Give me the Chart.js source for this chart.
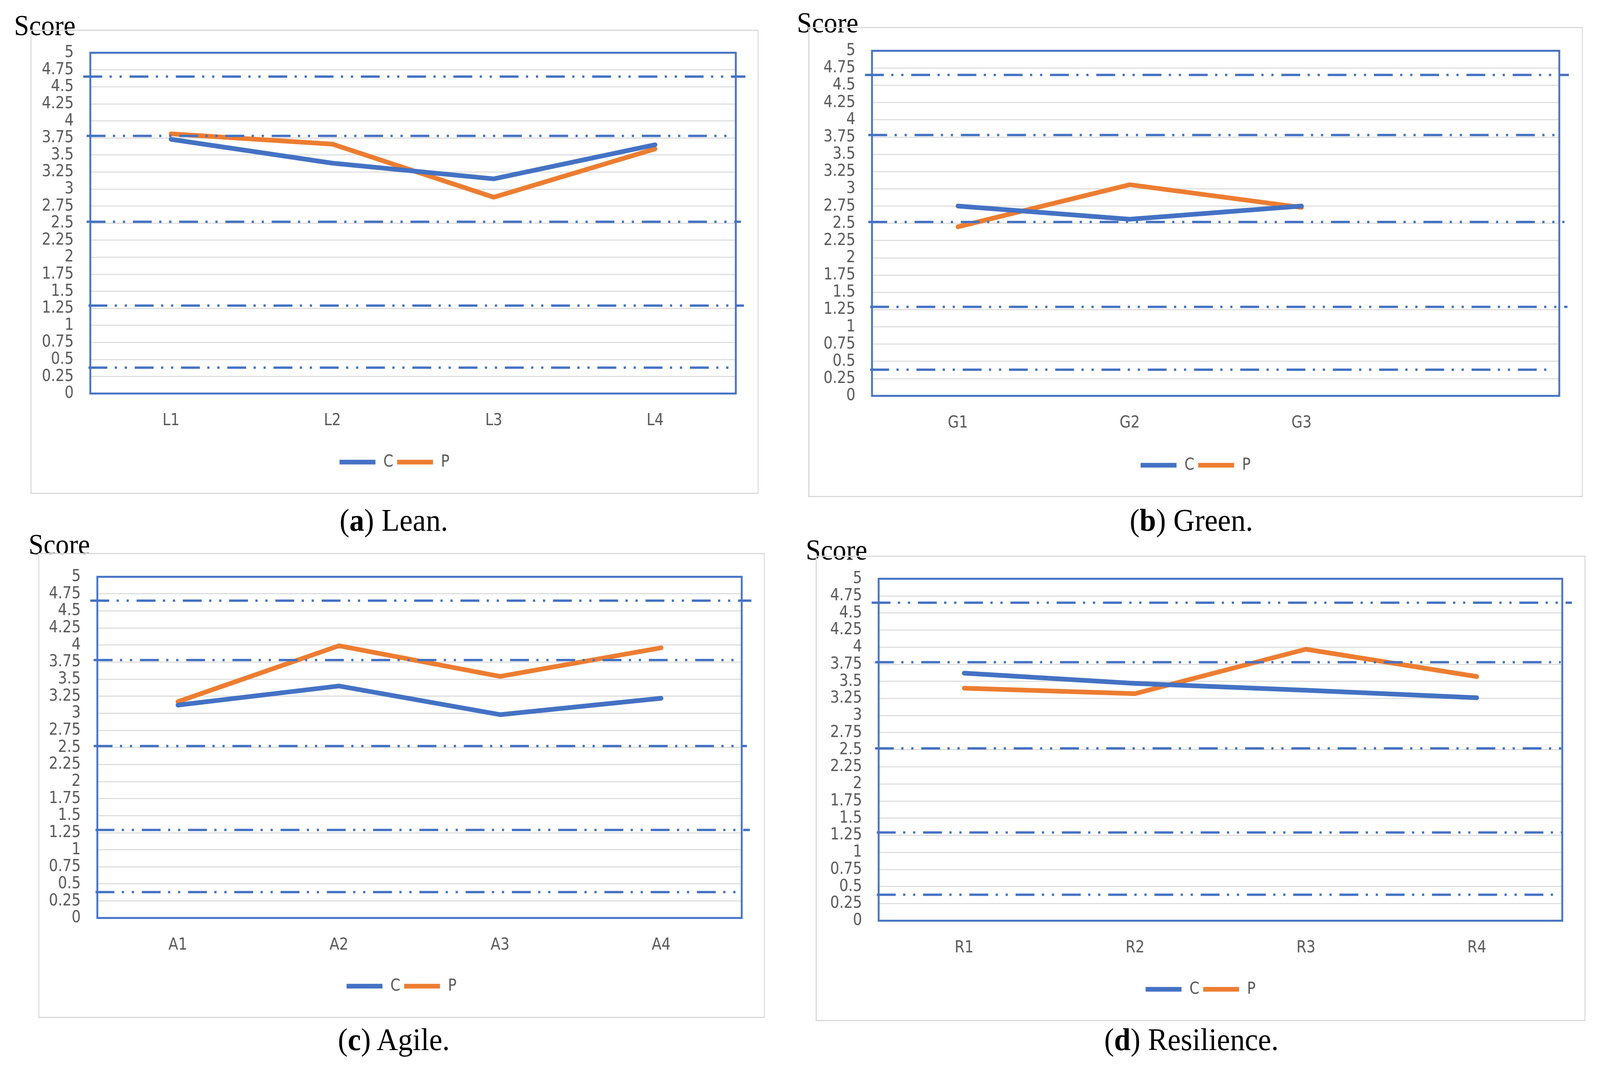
<!DOCTYPE html>
<html>
<head>
<meta charset="utf-8">
<script src="https://cdn.jsdelivr.net/npm/chart.js@4"></script>
<style>
    html, body { margin: 0; padding: 0; background: #fff; overflow: hidden; }
    #page { width: 4323px; height: 2738px; position: relative; transform-origin: 0 0; background: #fff; }
    .panel { position: absolute; outline: 3px solid #d9d9d9; }
    .panel canvas { display: block; }
    .score { position: absolute; font-family: "Liberation Serif", "Times New Roman", serif; font-size: 73px; line-height: 1; color: #000; }
    .caption { position: absolute; width: 1000px; text-align: center; font-family: "Liberation Serif", "Times New Roman", serif; font-size: 80px; line-height: 1; color: #000; }
</style>
</head>
<body>
<div id="page">

<div class="score" style="left:38px;top:29px">Score</div>
<div class="score" style="left:2153px;top:22px">Score</div>
<div class="score" style="left:77px;top:1357px">Score</div>
<div class="score" style="left:2177px;top:1371px">Score</div>

<div class="panel" style="left:85px;top:79px"><canvas id="lean" width="1962" height="1182"></canvas></div>
<div class="panel" style="left:2187px;top:72px"><canvas id="green" width="2087" height="1197"></canvas></div>
<div class="panel" style="left:106px;top:1418px"><canvas id="agile" width="1958" height="1184"></canvas></div>
<div class="panel" style="left:2207px;top:1425px"><canvas id="resilience" width="2074" height="1185"></canvas></div>

<div class="caption" style="left:564px;top:1291px">(<b>a</b>) Lean.</div>
<div class="caption" style="left:2719px;top:1291px">(<b>b</b>) Green.</div>
<div class="caption" style="left:564px;top:2620px">(<b>c</b>) Agile.</div>
<div class="caption" style="left:2719px;top:2620px">(<b>d</b>) Resilience.</div>

</div>
<script>
// data
const seriesNames = ['C', 'P'];

const leanLabels = ['L1', 'L2', 'L3', 'L4'];
const leanC = [3.73, 3.38, 3.15, 3.65];
const leanP = [3.81, 3.66, 2.88, 3.59];

const greenLabels = ['G1', 'G2', 'G3', ''];
const greenC = [2.75, 2.56, 2.75];
const greenP = [2.45, 3.06, 2.73];

const agileLabels = ['A1', 'A2', 'A3', 'A4'];
const agileC = [3.12, 3.40, 2.98, 3.22];
const agileP = [3.17, 3.99, 3.54, 3.96];

const resLabels = ['R1', 'R2', 'R3', 'R4'];
const resC = [3.62, 3.47, 3.37, 3.26];
const resP = [3.40, 3.32, 3.97, 3.57];

// dash-dot-dot reference lines
const thresholds = [4.65, 3.78, 2.52, 1.29, 0.38];

const yMin = 0;
const yMax = 5;
const yStep = 0.25;

// styling
const BLUE = '#4472C4';
const ORANGE = '#ED7D31';
const GREY_TEXT = '#595959';
const LINE_START = [-19, -10, -10, -5, -5];
const LINE_END = [26, -4, 14, 22, -15];
const PAD_BOTTOM = 47;

// fit the 4323x2738 page into whatever viewport we get
const page = document.getElementById('page');
const sx = window.innerWidth / 4323;
const sy = window.innerHeight / 2738;
page.style.transform = 'scale(' + sx + ',' + sy + ')';

function fontAvailable(name) {
    const c = document.createElement('canvas').getContext('2d');
    const probe = 'mmmmmwwwlli10.75';
    return ['monospace', 'serif'].some(base => {
        c.font = '72px ' + base;
        const w0 = c.measureText(probe).width;
        c.font = '72px "' + name + '", ' + base;
        return c.measureText(probe).width !== w0;
    });
}

// narrow sans similar to Calibri
const fontChoices = [['Liberation Sans Narrow', 48], ['DejaVu Sans Condensed', 43], ['Liberation Sans', 42]];
const pick = fontChoices.find(f => fontAvailable(f[0])) || ['sans-serif', 42];
const FS = pick[1];

Chart.defaults.font.family = '"' + pick[0] + '", sans-serif';
Chart.defaults.font.size = FS;
Chart.defaults.color = GREY_TEXT;

const plotFrame = {
    id: 'plotFrame',
    beforeDatasetsDraw(chart) {
        const { ctx, chartArea: a } = chart;
        ctx.save();
        ctx.strokeStyle = BLUE;
        ctx.lineWidth = 5;
        ctx.strokeRect(a.left, a.top, a.right - a.left, a.bottom - a.top);
        ctx.restore();
    },
    afterDatasetsDraw(chart) {
        const { ctx, chartArea: a } = chart;
        const y = chart.scales.y;
        ctx.save();
        ctx.strokeStyle = BLUE;
        ctx.lineWidth = 6;
        ctx.setLineDash([51, 20, 6, 21, 6, 21]);
        thresholds.forEach((v, i) => {
            const py = y.getPixelForValue(v);
            ctx.beginPath();
            ctx.moveTo(a.left + LINE_START[i], py);
            ctx.lineTo(a.right + LINE_END[i], py);
            ctx.stroke();
        });
        ctx.restore();
    }
};

function lineSet(name, values, color) {
    return {
        label: name,
        data: values,
        borderColor: color,
        backgroundColor: color,
        borderWidth: 12,
        pointRadius: 0,
        pointStyle: 'line',
        tension: 0,
        borderCapStyle: 'round',
        borderJoinStyle: 'round'
    };
}

// plot offsets inside each canvas: left, right, top, bottom
function makePanel(id, labels, cVals, pVals, plot) {
    const ctx = document.getElementById(id).getContext('2d');
    return new Chart(ctx, {
        type: 'line',
        data: {
            labels: labels,
            datasets: [
                lineSet(seriesNames[0], cVals, BLUE),
                lineSet(seriesNames[1], pVals, ORANGE)
            ]
        },
        options: {
            responsive: false,
            animation: false,
            layout: { padding: { left: 0, right: 0, top: plot[2], bottom: PAD_BOTTOM } },
            plugins: {
                title: { display: false },
                tooltip: { enabled: false },
                legend: {
                    position: 'bottom',
                    labels: {
                        usePointStyle: true,
                        pointStyle: 'line',
                        pointStyleWidth: 97,
                        padding: 10,
                        color: GREY_TEXT
                    }
                }
            },
            scales: {
                x: {
                    offset: true,
                    grid: { display: false },
                    border: { display: false },
                    ticks: { padding: Math.round(62 - FS * 0.6), color: GREY_TEXT, maxRotation: 0 },
                    afterFit: (s) => { s.height = plot[3] - PAD_BOTTOM - s.chart.legend.height; }
                },
                y: {
                    min: yMin,
                    max: yMax,
                    grid: { color: '#d9d9d9', lineWidth: 2.5, drawTicks: false },
                    border: { display: false },
                    ticks: {
                        stepSize: yStep,
                        autoSkip: false,
                        padding: 45,
                        color: GREY_TEXT,
                        font: { lineHeight: 0.4 },
                        callback: (v) => String(v)
                    },
                    afterFit: (s) => { s.width = plot[0]; }
                },
                yRight: {
                    position: 'right',
                    grid: { display: false },
                    border: { display: false },
                    ticks: { display: false },
                    afterFit: (s) => { s.width = plot[1]; }
                }
            }
        },
        plugins: [plotFrame]
    });
}

makePanel('lean', leanLabels, leanC, leanP, [159, 59, 56, 254]);
makePanel('green', greenLabels, greenC, greenP, [169, 61, 58, 256]);
makePanel('agile', agileLabels, agileC, agileP, [157, 60, 58, 253]);
makePanel('resilience', resLabels, resC, resP, [167, 60, 56, 254]);
</script>
</body>
</html>
